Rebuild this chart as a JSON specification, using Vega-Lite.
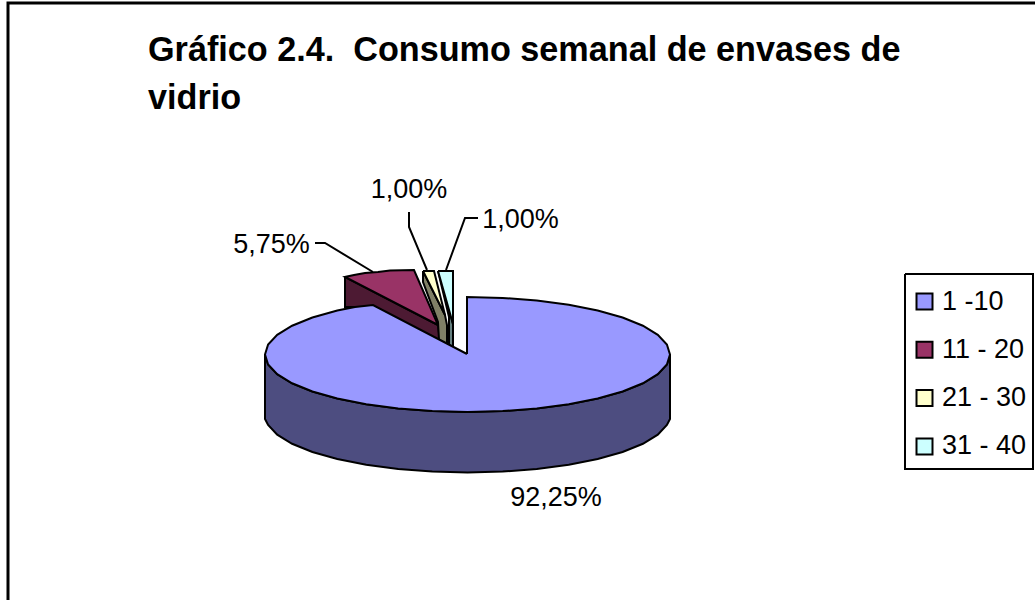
{
"$schema":"https://vega.github.io/schema/vega-lite/v6.json",
"width":1035,"height":600,"padding":0,"autosize":{"type":"none"},"background":"white",
"title":{"text":["Gráfico 2.4. \u00a0Consumo semanal de envases de","vidrio"],"anchor":"start","frame":"group","orient":"top","font":"Liberation Sans","fontSize":34.2,"fontWeight":"bold","color":"black","lineHeight":48,"baseline":"alphabetic","dx":148,"dy":146,"offset":0},
"config":{"view":{"stroke":null}},
"datasets":{
"formas":[
{"p":"11 - 20 lado","i":1,"x":345,"y":277},{"p":"11 - 20 lado","i":2,"x":438,"y":325},{"p":"11 - 20 lado","i":3,"x":440,"y":342},{"p":"11 - 20 lado","i":4,"x":373,"y":307},{"p":"11 - 20 lado","i":5,"x":345,"y":307},{"p":"11 - 20 lado","i":6,"x":345,"y":277},
{"p":"11 - 20","i":1,"x":438,"y":325},{"p":"11 - 20","i":2,"x":414,"y":270},{"p":"11 - 20","i":3,"x":390,"y":270.5},{"p":"11 - 20","i":4,"x":378,"y":272},{"p":"11 - 20","i":5,"x":365,"y":273},{"p":"11 - 20","i":6,"x":354,"y":275},{"p":"11 - 20","i":7,"x":345,"y":277},{"p":"11 - 20","i":8,"x":438,"y":325},
{"p":"21 - 30 lado","i":1,"x":423,"y":271},{"p":"21 - 30 lado","i":2,"x":423,"y":282},{"p":"21 - 30 lado","i":3,"x":438,"y":322},{"p":"21 - 30 lado","i":4,"x":439,"y":340},{"p":"21 - 30 lado","i":5,"x":447,"y":344},{"p":"21 - 30 lado","i":6,"x":447,"y":325},{"p":"21 - 30 lado","i":7,"x":445,"y":315},{"p":"21 - 30 lado","i":8,"x":423,"y":271},
{"p":"21 - 30","i":1,"x":423,"y":271},{"p":"21 - 30","i":2,"x":434,"y":271},{"p":"21 - 30","i":3,"x":445,"y":315},{"p":"21 - 30","i":4,"x":423,"y":271},
{"p":"31 - 40 lado","i":1,"x":438,"y":271},{"p":"31 - 40 lado","i":2,"x":449,"y":317},{"p":"31 - 40 lado","i":3,"x":449,"y":345},{"p":"31 - 40 lado","i":4,"x":453,"y":347},{"p":"31 - 40 lado","i":5,"x":453,"y":324},{"p":"31 - 40 lado","i":6,"x":438,"y":271},
{"p":"31 - 40","i":1,"x":438,"y":271},{"p":"31 - 40","i":2,"x":453,"y":271},{"p":"31 - 40","i":3,"x":453,"y":324},{"p":"31 - 40","i":4,"x":438,"y":271},
{"p":"1 -10 lado","i":1,"x":670,"y":354.5},{"p":"1 -10 lado","i":2,"x":666.9,"y":364.5},{"p":"1 -10 lado","i":3,"x":657.8,"y":374.2},{"p":"1 -10 lado","i":4,"x":642.9,"y":383.3},{"p":"1 -10 lado","i":5,"x":622.6,"y":391.5},{"p":"1 -10 lado","i":6,"x":597.7,"y":398.5},{"p":"1 -10 lado","i":7,"x":568.8,"y":404.3},{"p":"1 -10 lado","i":8,"x":536.8,"y":408.5},{"p":"1 -10 lado","i":9,"x":502.7,"y":411.1},{"p":"1 -10 lado","i":10,"x":467.5,"y":412},{"p":"1 -10 lado","i":11,"x":432.3,"y":411.1},{"p":"1 -10 lado","i":12,"x":398.2,"y":408.5},{"p":"1 -10 lado","i":13,"x":366.2,"y":404.3},{"p":"1 -10 lado","i":14,"x":337.3,"y":398.5},{"p":"1 -10 lado","i":15,"x":312.4,"y":391.5},{"p":"1 -10 lado","i":16,"x":292.1,"y":383.3},{"p":"1 -10 lado","i":17,"x":277.2,"y":374.2},{"p":"1 -10 lado","i":18,"x":268.1,"y":364.5},{"p":"1 -10 lado","i":19,"x":265,"y":354.5},
{"p":"1 -10 lado","i":20,"x":265,"y":419},{"p":"1 -10 lado","i":21,"x":268.1,"y":425},{"p":"1 -10 lado","i":22,"x":277.2,"y":434.7},{"p":"1 -10 lado","i":23,"x":292.1,"y":443.8},{"p":"1 -10 lado","i":24,"x":312.4,"y":452},{"p":"1 -10 lado","i":25,"x":337.3,"y":459},{"p":"1 -10 lado","i":26,"x":366.2,"y":464.8},{"p":"1 -10 lado","i":27,"x":398.2,"y":469},{"p":"1 -10 lado","i":28,"x":432.3,"y":471.6},{"p":"1 -10 lado","i":29,"x":467.5,"y":472.5},{"p":"1 -10 lado","i":30,"x":502.7,"y":471.6},{"p":"1 -10 lado","i":31,"x":536.8,"y":469},{"p":"1 -10 lado","i":32,"x":568.8,"y":464.8},{"p":"1 -10 lado","i":33,"x":597.7,"y":459},{"p":"1 -10 lado","i":34,"x":622.6,"y":452},{"p":"1 -10 lado","i":35,"x":642.9,"y":443.8},{"p":"1 -10 lado","i":36,"x":657.8,"y":434.7},{"p":"1 -10 lado","i":37,"x":666.9,"y":425},{"p":"1 -10 lado","i":38,"x":670,"y":419},{"p":"1 -10 lado","i":39,"x":670,"y":354.5},
{"p":"\u00a01 -10","i":1,"x":467,"y":354},{"p":"\u00a01 -10","i":2,"x":467,"y":297},{"p":"\u00a01 -10","i":3,"x":502.7,"y":297.9},{"p":"\u00a01 -10","i":4,"x":536.8,"y":300.5},{"p":"\u00a01 -10","i":5,"x":568.8,"y":304.7},{"p":"\u00a01 -10","i":6,"x":597.7,"y":310.5},{"p":"\u00a01 -10","i":7,"x":622.6,"y":317.5},{"p":"\u00a01 -10","i":8,"x":642.9,"y":325.7},{"p":"\u00a01 -10","i":9,"x":657.8,"y":334.8},{"p":"\u00a01 -10","i":10,"x":666.9,"y":344.5},{"p":"\u00a01 -10","i":11,"x":670,"y":354.5},{"p":"\u00a01 -10","i":12,"x":666.9,"y":364.5},{"p":"\u00a01 -10","i":13,"x":657.8,"y":374.2},{"p":"\u00a01 -10","i":14,"x":642.9,"y":383.3},{"p":"\u00a01 -10","i":15,"x":622.6,"y":391.5},{"p":"\u00a01 -10","i":16,"x":597.7,"y":398.5},{"p":"\u00a01 -10","i":17,"x":568.8,"y":404.3},{"p":"\u00a01 -10","i":18,"x":536.8,"y":408.5},{"p":"\u00a01 -10","i":19,"x":502.7,"y":411.1},{"p":"\u00a01 -10","i":20,"x":467.5,"y":412},{"p":"\u00a01 -10","i":21,"x":432.3,"y":411.1},{"p":"\u00a01 -10","i":22,"x":398.2,"y":408.5},{"p":"\u00a01 -10","i":23,"x":366.2,"y":404.3},{"p":"\u00a01 -10","i":24,"x":337.3,"y":398.5},{"p":"\u00a01 -10","i":25,"x":312.4,"y":391.5},{"p":"\u00a01 -10","i":26,"x":292.1,"y":383.3},{"p":"\u00a01 -10","i":27,"x":277.2,"y":374.2},{"p":"\u00a01 -10","i":28,"x":268.1,"y":364.5},{"p":"\u00a01 -10","i":29,"x":265,"y":354.5},{"p":"\u00a01 -10","i":30,"x":268.1,"y":344.5},{"p":"\u00a01 -10","i":31,"x":277.2,"y":334.8},{"p":"\u00a01 -10","i":32,"x":292.1,"y":325.7},{"p":"\u00a01 -10","i":33,"x":312.4,"y":317.5},{"p":"\u00a01 -10","i":34,"x":337.3,"y":310.5},{"p":"\u00a01 -10","i":35,"x":355,"y":307},{"p":"\u00a01 -10","i":36,"x":373,"y":305},{"p":"\u00a01 -10","i":37,"x":467,"y":354}
],
"guias":[
{"g":"marco","i":1,"x":8,"y":600},{"g":"marco","i":2,"x":8,"y":3},{"g":"marco","i":3,"x":1035,"y":3},
{"g":"leyenda","i":1,"x":905,"y":274},{"g":"leyenda","i":2,"x":1033,"y":274},{"g":"leyenda","i":3,"x":1033,"y":469},{"g":"leyenda","i":4,"x":905,"y":469},{"g":"leyenda","i":5,"x":905,"y":274},
{"g":"a","i":1,"x":315,"y":243},{"g":"a","i":2,"x":325,"y":243},{"g":"a","i":3,"x":373,"y":272},
{"g":"b","i":1,"x":409,"y":212},{"g":"b","i":2,"x":409,"y":227},{"g":"b","i":3,"x":427,"y":270},
{"g":"c","i":1,"x":478,"y":218},{"g":"c","i":2,"x":465,"y":218},{"g":"c","i":3,"x":446,"y":270}
],
"etiquetas":[
{"rango":"1 -10","t":"92,25%","x":556,"y":506},
{"rango":"11 - 20","t":"5,75%","x":271.5,"y":253},
{"rango":"21 - 30","t":"1,00%","x":409,"y":198},
{"rango":"31 - 40","t":"1,00%","x":520.5,"y":228}
]
},
"layer":[
{"data":{"name":"guias"},"mark":{"type":"line","stroke":"black","strokeJoin":"miter"},
 "encoding":{"x":{"field":"x","type":"quantitative","scale":{"domain":[0,1035],"nice":false,"zero":false},"axis":null},"y":{"field":"y","type":"quantitative","scale":{"domain":[600,0],"nice":false,"zero":false},"axis":null},"detail":{"field":"g"},"order":{"field":"i"},
 "strokeWidth":{"condition":{"test":"datum.g==='marco'","value":3},"value":2}}},
{"data":{"name":"formas"},"mark":{"type":"line","filled":true,"stroke":"black","strokeWidth":2,"strokeJoin":"miter"},
 "encoding":{"x":{"field":"x","type":"quantitative","axis":null},"y":{"field":"y","type":"quantitative","axis":null},"order":{"field":"i"},
 "fill":{"field":"p","type":"nominal","sort":null,"title":null,
  "scale":{"domain":["11 - 20 lado","11 - 20","21 - 30 lado","21 - 30","31 - 40 lado","31 - 40","1 -10 lado","\u00a01 -10"],"range":["#4D1A33","#993366","#808066","#FFFFCC","#668080","#CCFFFF","#4D4D80","#9999FF"]},
  "legend":{"values":["\u00a01 -10","11 - 20","21 - 30","31 - 40"],"orient":"none","legendX":911,"legendY":288,"padding":0,"symbolType":"square","symbolSize":256,"symbolStrokeColor":"black","symbolStrokeWidth":2,"symbolOpacity":1,"labelFont":"Liberation Sans","labelFontSize":27,"labelColor":"black","labelOffset":4,"labelLimit":200,"rowPadding":20.3}}}},
{"data":{"name":"etiquetas"},"mark":{"type":"text","font":"Liberation Sans","fontSize":27,"color":"black","align":"center","baseline":"alphabetic"},
 "encoding":{"x":{"field":"x","type":"quantitative","axis":null},"y":{"field":"y","type":"quantitative","axis":null},"text":{"field":"t"}}}
]
}
